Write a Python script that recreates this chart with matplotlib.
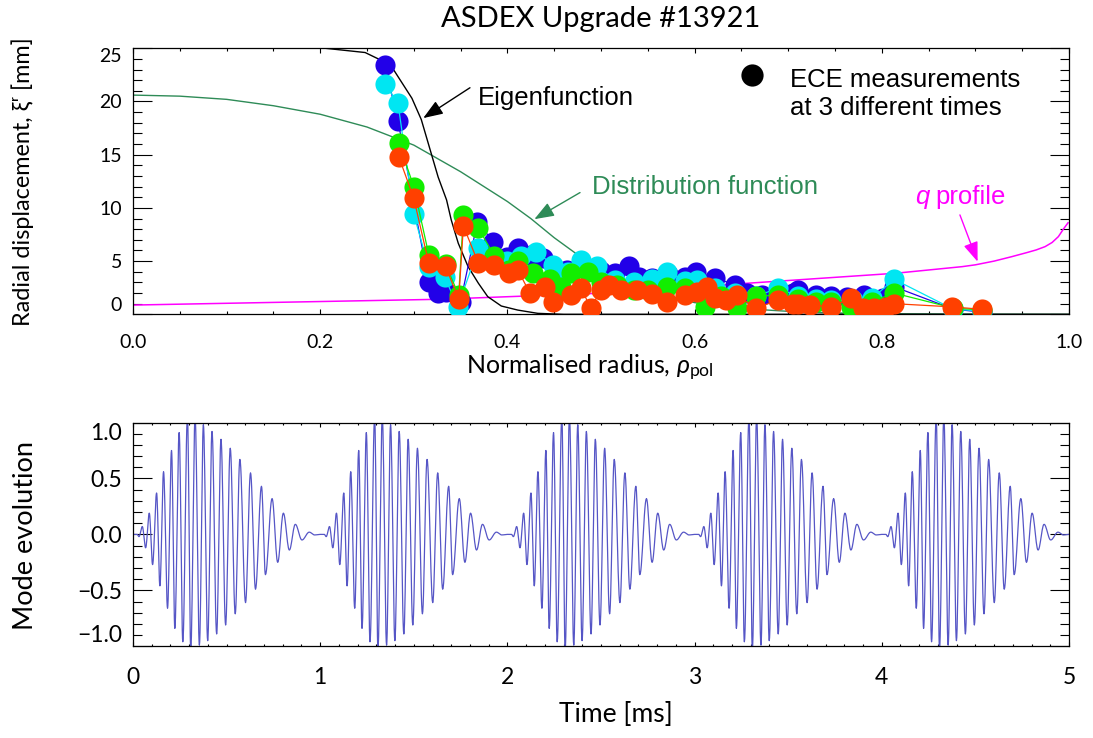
"""Fishbone mode: ECE displacement profile vs eigenfunction, plus mode evolution trace."""
import numpy as np
import matplotlib
matplotlib.use("Agg")
import matplotlib.pyplot as plt
from matplotlib.ticker import MultipleLocator, FuncFormatter

THIN = ["Lato", "DejaVu Sans"]
ARIAL = ["Liberation Sans", "DejaVu Sans"]
plt.rcParams["mathtext.fontset"] = "custom"
plt.rcParams["mathtext.rm"] = "Lato"
plt.rcParams["mathtext.it"] = "Lato:italic"

# --- ECE displacement at different times (rho_pol, xi_r in mm) ---
blue_rho = [0.269, 0.283, 0.316, 0.326, 0.334, 0.350, 0.368, 0.385, 0.400, 0.411, 0.425, 0.438,
            0.454, 0.464, 0.480, 0.500, 0.515, 0.530, 0.541, 0.555, 0.572, 0.590, 0.601, 0.622,
            0.643, 0.656, 0.672, 0.690, 0.705, 0.711, 0.730, 0.746, 0.763, 0.781, 0.801, 0.813,
            0.876, 0.907]
blue_xi = [23.45, 18.2, 3.0, 2.0, 2.1, 1.2, 8.7, 6.8, 5.4, 6.2, 5.6, 5.3,
           3.2, 4.2, 4.4, 4.1, 3.9, 4.5, 3.5, 3.4, 3.8, 3.5, 4.0, 3.4,
           2.8, 2.0, 1.8, 2.1, 2.0, 2.3, 1.8, 1.7, 1.6, 1.8, 1.5, 2.6,
           0.5, 0.2]

cyan_rho = [0.269, 0.283, 0.300, 0.316, 0.333, 0.347, 0.369, 0.386, 0.400, 0.415, 0.431, 0.449,
            0.465, 0.479, 0.496, 0.515, 0.535, 0.555, 0.571, 0.590, 0.603, 0.622, 0.643, 0.666,
            0.689, 0.711, 0.730, 0.746, 0.769, 0.790, 0.813, 0.876, 0.907]
cyan_xi = [21.6, 19.9, 9.4, 4.4, 3.5, 0.7, 6.2, 5.4, 5.0, 5.5, 5.9, 4.6,
           4.0, 5.1, 4.5, 3.2, 3.0, 3.3, 4.0, 3.1, 3.2, 2.5, 2.0, 1.7,
           2.45, 1.7, 1.4, 1.3, 1.3, 1.5, 3.3, 0.5, 0.3]

green_rho = [0.284, 0.300, 0.316, 0.334, 0.348, 0.353, 0.369, 0.386, 0.402, 0.411, 0.427, 0.445,
             0.457, 0.468, 0.486, 0.500, 0.517, 0.535, 0.550, 0.571, 0.590, 0.611, 0.628, 0.645,
             0.666, 0.689, 0.711, 0.730, 0.746, 0.767, 0.790, 0.813, 0.876, 0.907]
green_xi = [16.1, 12.0, 5.6, 4.7, 1.8, 9.3, 8.1, 5.5, 4.2, 5.0, 3.9, 3.3,
            2.6, 3.9, 4.0, 3.0, 2.8, 2.3, 2.3, 2.6, 2.5, 0.7, 1.7, 0.6,
            1.7, 1.8, 1.4, 1.2, 1.2, 0.7, 1.2, 2.0, 0.6, 0.4]

red_rho = [0.284, 0.300, 0.316, 0.334, 0.348, 0.353, 0.369, 0.386, 0.402, 0.411, 0.424, 0.440,
           0.449, 0.468, 0.479, 0.489, 0.500, 0.509, 0.521, 0.539, 0.555, 0.571, 0.590, 0.603,
           0.613, 0.622, 0.634, 0.645, 0.666, 0.689, 0.705, 0.711, 0.723, 0.746, 0.767, 0.780,
           0.792, 0.804, 0.813, 0.875, 0.907]
red_xi = [14.8, 10.9, 4.8, 4.5, 1.4, 8.3, 4.8, 4.6, 3.9, 4.2, 2.0, 2.6,
          1.2, 1.8, 2.45, 0.56, 2.3, 2.8, 2.3, 2.3, 1.9, 1.2, 1.8, 2.1,
          2.6, 1.5, 1.35, 1.8, 0.56, 1.35, 1.0, 1.0, 0.87, 0.72, 1.5, 0.56,
          0.56, 0.72, 1.0, 0.7, 0.47]

# --- model curves ---
eig_rho = [0.0, 0.200, 0.248, 0.275, 0.298, 0.308, 0.326, 0.335, 0.340, 0.3475, 0.358, 0.369,
           0.379, 0.3935, 0.411, 0.4325, 0.46, 1.0]
eig_xi = [25.6, 25.05, 24.6, 23.45, 20.3, 18.3, 12.9, 10.75, 8.87, 6.68, 4.48, 2.92,
          1.66, 0.78, 0.4, 0.09, 0.0, 0.0]

dist_rho = [0.0, 0.05, 0.10, 0.15, 0.20, 0.25, 0.30, 0.35, 0.40, 0.425, 0.45, 0.475, 0.50,
            0.525, 0.55, 0.60, 0.65, 0.70, 0.75, 0.80, 0.90, 1.0]
dist_xi = [20.6, 20.5, 20.2, 19.6, 18.8, 17.6, 15.9, 13.4, 10.6, 9.0, 7.2, 5.6, 4.2,
           3.0, 2.2, 1.1, 0.55, 0.28, 0.13, 0.06, 0.02, 0.0]

q_rho = [0.0, 0.326, 0.4963, 0.6025, 0.709, 0.815, 0.886, 0.90, 0.92, 0.939, 0.955, 0.965,
         0.9745, 0.982, 0.9887, 0.994, 0.999]
q_val = [0.87, 1.41, 1.97, 2.6, 3.23, 3.86, 4.48, 4.65, 5.0, 5.42, 5.8, 6.05,
         6.36, 6.75, 7.3, 8.0, 8.6]

# --- one fishbone burst: extrema (time in ms from burst start, amplitude) ---
burst_t = [0.0, 0.022, 0.032, 0.0496, 0.0674, 0.0869, 0.1046, 0.1259, 0.1436, 0.1631, 0.1844,
           0.2057, 0.2234, 0.2465, 0.2660, 0.2908, 0.3085, 0.3316, 0.3546, 0.3759, 0.3989,
           0.4220, 0.4468, 0.4699, 0.4947, 0.5195, 0.5461, 0.5709, 0.6011, 0.6277, 0.6543,
           0.6862, 0.7074, 0.7429, 0.7730, 0.8032, 0.8351, 0.8670, 0.9025, 0.9415, 0.970, 1.0]
burst_amp = [0.0, 0.0, -0.02, 0.07, -0.12, 0.19, -0.27, 0.37, -0.46, 0.56, -0.66,
             0.75, -0.84, 0.91, -0.96, 1.05, -1.03, 1.05, -0.99, 0.98, -0.95,
             0.92, -0.89, 0.85, -0.81, 0.77, -0.71, 0.67, -0.61, 0.55, -0.49,
             0.43, -0.36, 0.32, -0.25, 0.19, -0.14, 0.09, -0.05, 0.02, -0.005, 0.0]
burst_starts = [0.0, 1.0, 2.0, 3.0, 4.0]


def burst_trace():
    """Join successive extrema with half-cosine swings, repeated per burst."""
    s = np.linspace(0.0, 1.0, 14)
    shape = (1 - np.cos(np.pi * s)) / 2
    tt, yy = [], []
    for t0 in burst_starts:
        for i in range(len(burst_t) - 1):
            ta, tb = burst_t[i], burst_t[i + 1]
            va, vb = burst_amp[i], burst_amp[i + 1]
            tt.append(t0 + ta + (tb - ta) * s[:-1])
            yy.append(va + (vb - va) * shape[:-1])
    return np.concatenate(tt), np.concatenate(yy)


def fmt(spec):
    return FuncFormatter(lambda v, p: format(v, spec).replace("-", "\u2212"))


def style_axes(ax, xmaj, xmin, ymaj, ymin, xlen, ylen, fs, xfmt, yfmt):
    ax.xaxis.set_major_locator(MultipleLocator(xmaj))
    ax.xaxis.set_minor_locator(MultipleLocator(xmin))
    ax.yaxis.set_major_locator(MultipleLocator(ymaj))
    ax.yaxis.set_minor_locator(MultipleLocator(ymin))
    ax.xaxis.set_major_formatter(fmt(xfmt))
    ax.yaxis.set_major_formatter(fmt(yfmt))
    ax.tick_params(which="both", direction="in", top=True, right=True, width=0.8,
                   labelsize=fs, labelcolor="black")
    ax.tick_params(axis="x", which="major", length=xlen)
    ax.tick_params(axis="x", which="minor", length=xlen / 2)
    ax.tick_params(axis="y", which="major", length=ylen)
    ax.tick_params(axis="y", which="minor", length=ylen / 2)
    for sp in ax.spines.values():
        sp.set_linewidth(0.9)
    for lab in ax.get_xticklabels() + ax.get_yticklabels():
        lab.set_family(THIN)


def pin_end_labels(ax, lo, hi):
    ax.figure.canvas.draw()
    labs = [lab for lab in ax.get_yticklabels() if lo - 1e-6 <= lab.get_position()[1] <= hi + 1e-6]
    labs[0].set_verticalalignment("bottom")
    labs[-1].set_verticalalignment("top")


fig = plt.figure(figsize=(10.93, 7.38), dpi=100)
ax1 = fig.add_axes([0.1217, 0.5741, 0.8563, 0.3605])
ax2 = fig.add_axes([0.1217, 0.1243, 0.8563, 0.3032])

# ---- upper panel ----
ax1.plot(q_rho, q_val, color="#ff00ff", lw=1.1, zorder=2)
ax1.plot(dist_rho, dist_xi, color="#2e8b57", lw=1.0, zorder=2)
ax1.plot(eig_rho, eig_xi, color="black", lw=1.0, zorder=2)
for rho, xi, col in [(blue_rho, blue_xi, "#2200e8"), (cyan_rho, cyan_xi, "#00e6f2"),
                     (green_rho, green_xi, "#12ee00"), (red_rho, red_xi, "#ff4000")]:
    ax1.plot(rho, xi, color=col, lw=0.9, marker="o", ms=14.5, mew=0, zorder=3)

ax1.set_xlim(0, 1)
ax1.set_ylim(0, 25)
style_axes(ax1, 0.2, 0.05, 5, 1, 3.8, 13.5, 14, ".1f", ".0f")
ax1.tick_params(axis="x", pad=14)
ax1.tick_params(axis="y", pad=8)
pin_end_labels(ax1, 0, 25)

ax1.set_xlabel(r"Normalised radius, $\rho_{\rm pol}$", family=THIN, fontsize=18)
ax1.xaxis.set_label_coords(0.488, -0.20)
ax1.xaxis.label.set_verticalalignment("center")
ax1.set_ylabel("Radial displacement, \u03be\u02b3 [mm]", family=THIN, fontsize=16.8)
ax1.yaxis.set_label_coords(-0.118, 0.5)
ax1.yaxis.label.set_verticalalignment("center")

ax1.set_title("ASDEX Upgrade #13921", family=THIN, fontsize=21, pad=15)

# annotations
head = "-|>,head_length=1.2,head_width=0.45"
ax1.text(0.3686, 20.35, "Eigenfunction", family=ARIAL, fontsize=18.5, va="center", ha="left")
ax1.annotate("", xy=(0.3101, 18.44), xytext=(0.360, 21.29),
             arrowprops=dict(arrowstyle=head, color="black", lw=1.0, shrinkA=0, shrinkB=0))
ax1.text(0.4904, 11.97, "Distribution function", family=ARIAL, fontsize=18.5, va="center",
         ha="left", color="#2e8b57")
ax1.annotate("", xy=(0.4288, 8.94), xytext=(0.4776, 11.44),
             arrowprops=dict(arrowstyle=head, color="#2e8b57", lw=1.0, shrinkA=0, shrinkB=0))
ax1.text(0.8355, 11.03, "q", family=ARIAL, style="italic", fontsize=18.5, va="center",
         ha="left", color="#ff00ff")
ax1.text(0.857, 11.03, "profile", family=ARIAL, fontsize=18.5, va="center", ha="left",
         color="#ff00ff")
ax1.annotate("", xy=(0.9024, 4.95), xytext=(0.8835, 9.34),
             arrowprops=dict(arrowstyle=head, color="#ff00ff", lw=1.0, shrinkA=0, shrinkB=0))
ax1.plot([0.661], [22.5], marker="o", ms=16, color="black", mew=0, clip_on=False)
ax1.text(0.702, 20.7, "ECE measurements\nat 3 different times", family=ARIAL, fontsize=18.5,
         va="center", ha="left", linespacing=1.2)

# ---- lower panel ----
t, amp = burst_trace()
ax2.plot(t, amp, color="#5656c6", lw=0.9)
ax2.set_xlim(0, 5)
ax2.set_ylim(-1, 1)
style_axes(ax2, 1, 0.1, 0.5, 0.1, 3.2, 13.5, 16.5, ".0f", ".1f")
ax2.tick_params(axis="x", pad=15)
ax2.tick_params(axis="y", pad=8)
pin_end_labels(ax2, -1, 1)
ax2.set_xlabel("Time [ms]", family=THIN, fontsize=19)
ax2.xaxis.set_label_coords(0.516, -0.307)
ax2.xaxis.label.set_verticalalignment("center")
ax2.set_ylabel("Mode evolution", family=THIN, fontsize=19.5)
ax2.yaxis.set_label_coords(-0.115, 0.497)
ax2.yaxis.label.set_verticalalignment("center")

fig.savefig("out.png", dpi=100)
